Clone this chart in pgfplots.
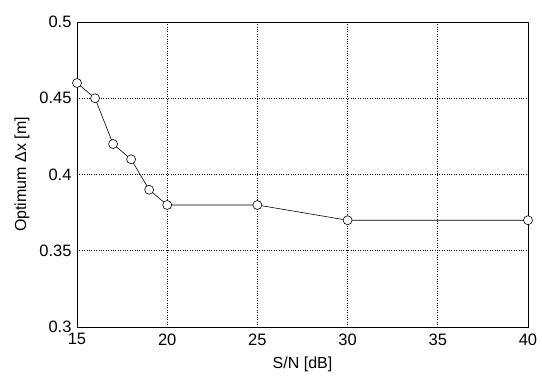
\documentclass[border=0pt]{standalone}
\usepackage{fontspec}
\setmainfont{Liberation Sans}
\usepackage{pgfplots}
\pgfplotsset{compat=1.18}
\begin{document}
\begin{tikzpicture}[x=1pt,y=1pt]
\begin{axis}[
  at={(77pt,48pt)}, anchor=south west,
  width=451pt, height=305pt, scale only axis,
  xmin=15, xmax=40, ymin=0.3, ymax=0.5,
  xtick={15,20,25,30,35,40},
  ytick={0.3,0.35,0.4,0.45,0.5},
  yticklabels={0.3,0.35,0.4,0.45,0.5},
  xmajorgrids, ymajorgrids,
  grid style={black, dotted, line width=0.6pt},
  axis line style={black, line width=0.7pt},
  tick style={draw=none},
  tick label style={font=\fontsize{16.5}{18}\selectfont},
  xticklabel style={yshift=-3pt},
  yticklabel style={xshift=-2pt},
  /pgf/number format/assume math mode=true,
  xlabel={S/N [dB]}, ylabel={Optimum Δx [m]},
  label style={font=\fontsize{16}{18}\selectfont},
  xlabel style={yshift=-5pt},
  ylabel style={yshift=3pt},
]
\addplot[black, line width=0.6pt, mark=*, mark size=4.5pt,
  mark options={fill=white, draw=black, line width=0.6pt}]
  coordinates {(15,0.46) (16,0.45) (17,0.42) (18,0.41) (19,0.39) (20,0.38) (25,0.38) (30,0.37) (40,0.37)};
\end{axis}
\path (0,0) rectangle (542,375);
\end{tikzpicture}
\end{document}
